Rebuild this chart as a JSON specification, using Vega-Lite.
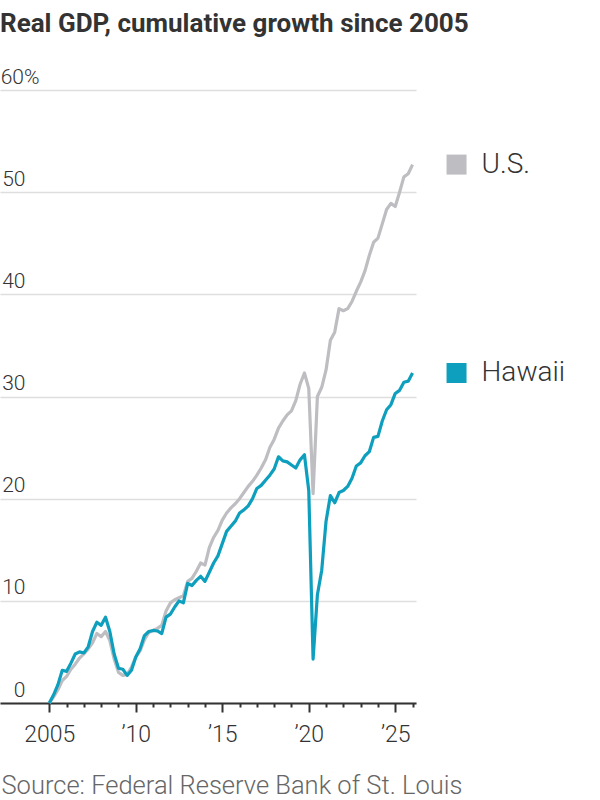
{
  "$schema": "https://vega.github.io/schema/vega-lite/v6.json",
  "width": 416,
  "height": 613,
  "autosize": {"type": "none"},
  "padding": {"left": 0, "top": 90, "right": 184, "bottom": 97},
  "background": "white",
  "title": {
    "text": "Real GDP, cumulative growth since 2005",
    "anchor": "start",
    "frame": "group",
    "font": "Roboto",
    "fontSize": 26,
    "fontWeight": "bold",
    "color": "#333333",
    "offset": 29
  },
  "data": {
    "values": [
      {"s": "U.S.", "t": 2005, "v": 0}, {"s": "U.S.", "t": 2005.25, "v": 0.6}, {"s": "U.S.", "t": 2005.5, "v": 1.3}, {"s": "U.S.", "t": 2005.75, "v": 2.2},
      {"s": "U.S.", "t": 2006, "v": 2.6}, {"s": "U.S.", "t": 2006.25, "v": 3.3}, {"s": "U.S.", "t": 2006.5, "v": 3.8}, {"s": "U.S.", "t": 2006.75, "v": 4.4},
      {"s": "U.S.", "t": 2007, "v": 4.8}, {"s": "U.S.", "t": 2007.25, "v": 5.3}, {"s": "U.S.", "t": 2007.5, "v": 5.9}, {"s": "U.S.", "t": 2007.75, "v": 6.8},
      {"s": "U.S.", "t": 2008, "v": 6.5}, {"s": "U.S.", "t": 2008.25, "v": 7.0}, {"s": "U.S.", "t": 2008.5, "v": 6.1}, {"s": "U.S.", "t": 2008.75, "v": 4.3},
      {"s": "U.S.", "t": 2009, "v": 3.0}, {"s": "U.S.", "t": 2009.25, "v": 2.7}, {"s": "U.S.", "t": 2009.5, "v": 2.8}, {"s": "U.S.", "t": 2009.75, "v": 3.5},
      {"s": "U.S.", "t": 2010, "v": 4.5}, {"s": "U.S.", "t": 2010.25, "v": 5.1}, {"s": "U.S.", "t": 2010.5, "v": 6.2}, {"s": "U.S.", "t": 2010.75, "v": 6.9},
      {"s": "U.S.", "t": 2011, "v": 7.1}, {"s": "U.S.", "t": 2011.25, "v": 7.3}, {"s": "U.S.", "t": 2011.5, "v": 7.6}, {"s": "U.S.", "t": 2011.75, "v": 9.0},
      {"s": "U.S.", "t": 2012, "v": 9.8}, {"s": "U.S.", "t": 2012.25, "v": 10.1}, {"s": "U.S.", "t": 2012.5, "v": 10.3}, {"s": "U.S.", "t": 2012.75, "v": 10.5},
      {"s": "U.S.", "t": 2013, "v": 11.9}, {"s": "U.S.", "t": 2013.25, "v": 12.2}, {"s": "U.S.", "t": 2013.5, "v": 12.9}, {"s": "U.S.", "t": 2013.75, "v": 13.7},
      {"s": "U.S.", "t": 2014, "v": 13.5}, {"s": "U.S.", "t": 2014.25, "v": 15.2}, {"s": "U.S.", "t": 2014.5, "v": 16.2}, {"s": "U.S.", "t": 2014.75, "v": 16.9},
      {"s": "U.S.", "t": 2015, "v": 17.9}, {"s": "U.S.", "t": 2015.25, "v": 18.6}, {"s": "U.S.", "t": 2015.5, "v": 19.1}, {"s": "U.S.", "t": 2015.75, "v": 19.5},
      {"s": "U.S.", "t": 2016, "v": 20.0}, {"s": "U.S.", "t": 2016.25, "v": 20.6}, {"s": "U.S.", "t": 2016.5, "v": 21.2}, {"s": "U.S.", "t": 2016.75, "v": 21.7},
      {"s": "U.S.", "t": 2017, "v": 22.3}, {"s": "U.S.", "t": 2017.25, "v": 23.0}, {"s": "U.S.", "t": 2017.5, "v": 23.8}, {"s": "U.S.", "t": 2017.75, "v": 25.0},
      {"s": "U.S.", "t": 2018, "v": 25.8}, {"s": "U.S.", "t": 2018.25, "v": 26.9}, {"s": "U.S.", "t": 2018.5, "v": 27.6}, {"s": "U.S.", "t": 2018.75, "v": 28.2},
      {"s": "U.S.", "t": 2019, "v": 28.6}, {"s": "U.S.", "t": 2019.25, "v": 29.6}, {"s": "U.S.", "t": 2019.5, "v": 31.2}, {"s": "U.S.", "t": 2019.75, "v": 32.3},
      {"s": "U.S.", "t": 2020, "v": 30.8}, {"s": "U.S.", "t": 2020.25, "v": 20.5}, {"s": "U.S.", "t": 2020.5, "v": 30.0}, {"s": "U.S.", "t": 2020.75, "v": 30.9},
      {"s": "U.S.", "t": 2021, "v": 32.6}, {"s": "U.S.", "t": 2021.25, "v": 35.5}, {"s": "U.S.", "t": 2021.5, "v": 36.3}, {"s": "U.S.", "t": 2021.75, "v": 38.6},
      {"s": "U.S.", "t": 2022, "v": 38.4}, {"s": "U.S.", "t": 2022.25, "v": 38.6}, {"s": "U.S.", "t": 2022.5, "v": 39.3}, {"s": "U.S.", "t": 2022.75, "v": 40.3},
      {"s": "U.S.", "t": 2023, "v": 41.2}, {"s": "U.S.", "t": 2023.25, "v": 42.3}, {"s": "U.S.", "t": 2023.5, "v": 43.8}, {"s": "U.S.", "t": 2023.75, "v": 45.1},
      {"s": "U.S.", "t": 2024, "v": 45.5}, {"s": "U.S.", "t": 2024.25, "v": 46.9}, {"s": "U.S.", "t": 2024.5, "v": 48.3}, {"s": "U.S.", "t": 2024.75, "v": 48.9},
      {"s": "U.S.", "t": 2025, "v": 48.6}, {"s": "U.S.", "t": 2025.25, "v": 50.0}, {"s": "U.S.", "t": 2025.5, "v": 51.5}, {"s": "U.S.", "t": 2025.75, "v": 51.8},
      {"s": "U.S.", "t": 2026, "v": 52.7},
      {"s": "Hawaii", "t": 2005, "v": 0}, {"s": "Hawaii", "t": 2005.25, "v": 0.8}, {"s": "Hawaii", "t": 2005.5, "v": 1.8}, {"s": "Hawaii", "t": 2005.75, "v": 3.2},
      {"s": "Hawaii", "t": 2006, "v": 3.1}, {"s": "Hawaii", "t": 2006.25, "v": 3.9}, {"s": "Hawaii", "t": 2006.5, "v": 4.8}, {"s": "Hawaii", "t": 2006.75, "v": 5.0},
      {"s": "Hawaii", "t": 2007, "v": 4.9}, {"s": "Hawaii", "t": 2007.25, "v": 5.5}, {"s": "Hawaii", "t": 2007.5, "v": 7.0}, {"s": "Hawaii", "t": 2007.75, "v": 7.9},
      {"s": "Hawaii", "t": 2008, "v": 7.6}, {"s": "Hawaii", "t": 2008.25, "v": 8.4}, {"s": "Hawaii", "t": 2008.5, "v": 7.0}, {"s": "Hawaii", "t": 2008.75, "v": 4.8},
      {"s": "Hawaii", "t": 2009, "v": 3.4}, {"s": "Hawaii", "t": 2009.25, "v": 3.3}, {"s": "Hawaii", "t": 2009.5, "v": 2.7}, {"s": "Hawaii", "t": 2009.75, "v": 3.2},
      {"s": "Hawaii", "t": 2010, "v": 4.5}, {"s": "Hawaii", "t": 2010.25, "v": 5.3}, {"s": "Hawaii", "t": 2010.5, "v": 6.6}, {"s": "Hawaii", "t": 2010.75, "v": 7.0},
      {"s": "Hawaii", "t": 2011, "v": 7.1}, {"s": "Hawaii", "t": 2011.25, "v": 7.05}, {"s": "Hawaii", "t": 2011.5, "v": 6.8}, {"s": "Hawaii", "t": 2011.75, "v": 8.4},
      {"s": "Hawaii", "t": 2012, "v": 8.7}, {"s": "Hawaii", "t": 2012.25, "v": 9.4}, {"s": "Hawaii", "t": 2012.5, "v": 10.0}, {"s": "Hawaii", "t": 2012.75, "v": 9.8},
      {"s": "Hawaii", "t": 2013, "v": 11.7}, {"s": "Hawaii", "t": 2013.25, "v": 11.5}, {"s": "Hawaii", "t": 2013.5, "v": 12.0}, {"s": "Hawaii", "t": 2013.75, "v": 12.4},
      {"s": "Hawaii", "t": 2014, "v": 11.9}, {"s": "Hawaii", "t": 2014.25, "v": 12.8}, {"s": "Hawaii", "t": 2014.5, "v": 13.7}, {"s": "Hawaii", "t": 2014.75, "v": 14.4},
      {"s": "Hawaii", "t": 2015, "v": 15.6}, {"s": "Hawaii", "t": 2015.25, "v": 16.8}, {"s": "Hawaii", "t": 2015.5, "v": 17.3}, {"s": "Hawaii", "t": 2015.75, "v": 17.8},
      {"s": "Hawaii", "t": 2016, "v": 18.6}, {"s": "Hawaii", "t": 2016.25, "v": 18.9}, {"s": "Hawaii", "t": 2016.5, "v": 19.3}, {"s": "Hawaii", "t": 2016.75, "v": 20.0},
      {"s": "Hawaii", "t": 2017, "v": 21.0}, {"s": "Hawaii", "t": 2017.25, "v": 21.3}, {"s": "Hawaii", "t": 2017.5, "v": 21.8}, {"s": "Hawaii", "t": 2017.75, "v": 22.3},
      {"s": "Hawaii", "t": 2018, "v": 22.9}, {"s": "Hawaii", "t": 2018.25, "v": 24.1}, {"s": "Hawaii", "t": 2018.5, "v": 23.7}, {"s": "Hawaii", "t": 2018.75, "v": 23.6},
      {"s": "Hawaii", "t": 2019, "v": 23.3}, {"s": "Hawaii", "t": 2019.25, "v": 23.0}, {"s": "Hawaii", "t": 2019.5, "v": 23.8}, {"s": "Hawaii", "t": 2019.75, "v": 24.3},
      {"s": "Hawaii", "t": 2020, "v": 20.8}, {"s": "Hawaii", "t": 2020.25, "v": 4.3}, {"s": "Hawaii", "t": 2020.5, "v": 10.6}, {"s": "Hawaii", "t": 2020.75, "v": 13.0},
      {"s": "Hawaii", "t": 2021, "v": 17.8}, {"s": "Hawaii", "t": 2021.25, "v": 20.3}, {"s": "Hawaii", "t": 2021.5, "v": 19.6}, {"s": "Hawaii", "t": 2021.75, "v": 20.6},
      {"s": "Hawaii", "t": 2022, "v": 20.8}, {"s": "Hawaii", "t": 2022.25, "v": 21.2}, {"s": "Hawaii", "t": 2022.5, "v": 22.0}, {"s": "Hawaii", "t": 2022.75, "v": 23.2},
      {"s": "Hawaii", "t": 2023, "v": 23.5}, {"s": "Hawaii", "t": 2023.25, "v": 24.2}, {"s": "Hawaii", "t": 2023.5, "v": 24.6}, {"s": "Hawaii", "t": 2023.75, "v": 26.0},
      {"s": "Hawaii", "t": 2024, "v": 26.1}, {"s": "Hawaii", "t": 2024.25, "v": 27.6}, {"s": "Hawaii", "t": 2024.5, "v": 28.7}, {"s": "Hawaii", "t": 2024.75, "v": 29.2},
      {"s": "Hawaii", "t": 2025, "v": 30.3}, {"s": "Hawaii", "t": 2025.25, "v": 30.6}, {"s": "Hawaii", "t": 2025.5, "v": 31.4}, {"s": "Hawaii", "t": 2025.75, "v": 31.5},
      {"s": "Hawaii", "t": 2026, "v": 32.3}
    ]
  },
  "encoding": {
    "x": {
      "field": "t",
      "type": "quantitative",
      "scale": {"domain": [2002.15, 2026.2], "nice": false, "zero": false},
      "axis": {
        "title": "Source: Federal Reserve Bank of St. Louis",
        "titleAnchor": "start",
        "titleAlign": "left",
        "titleX": 1,
        "titleY": 90,
        "titleBaseline": "alphabetic",
        "titleFont": "Roboto",
        "titleFontSize": 25.5,
        "titleFontWeight": 300,
        "titleColor": "#666666",
        "values": [2005, 2006, 2007, 2008, 2009, 2010, 2011, 2012, 2013, 2014, 2015, 2016, 2017, 2018, 2019, 2020, 2021, 2022, 2023, 2024, 2025, 2026],
        "labelExpr": "datum.value % 5 === 0 ? (datum.value === 2005 ? '2005' : '\u2019' + substring(toString(datum.value), 2, 4)) : ''",
        "labelFont": "Roboto",
        "labelFontSize": 23,
        "labelFontWeight": 300,
        "labelColor": "#333333",
        "labelPadding": 11,
        "labelOverlap": false,
        "labelFlush": false,
        "grid": false,
        "domainColor": "#333333",
        "domainWidth": 2,
        "tickColor": "#333333",
        "tickWidth": 2,
        "tickSize": {"condition": {"test": "datum.value % 5 === 0", "value": 9}, "value": 4}
      }
    },
    "y": {
      "field": "v",
      "type": "quantitative",
      "scale": {"domain": [0, 60], "nice": false},
      "axis": {
        "title": null,
        "values": [0, 10, 20, 30, 40, 50, 60],
        "domain": false,
        "ticks": false,
        "tickSize": 0,
        "grid": true,
        "gridColor": "#dedede",
        "gridWidth": 1.5,
        "labelAlign": "right",
        "labelBaseline": "alphabetic",
        "labelOffset": -7,
        "labelPadding": {"condition": {"test": "datum.value === 60", "value": -39}, "value": -25},
        "labelExpr": "datum.value === 60 ? '60%' : datum.label",
        "labelFont": "Roboto",
        "labelFontSize": 21,
        "labelFontWeight": 300,
        "labelColor": "#333333",
        "labelOverlap": false,
        "labelFlush": false,
        "labelBound": false
      }
    },
    "color": {
      "field": "s",
      "type": "nominal",
      "scale": {"domain": ["U.S.", "Hawaii"], "range": ["#bebec2", "#0d9fbd"]},
      "legend": null
    }
  },
  "layer": [
    {
      "mark": {"type": "line", "strokeWidth": 3.2, "strokeJoin": "round"}
    },
    {
      "transform": [{"filter": "datum.t === 2026"}],
      "mark": {"type": "point", "shape": "square", "filled": true, "size": 400, "opacity": 1, "strokeWidth": 0, "xOffset": 44}
    },
    {
      "transform": [{"filter": "datum.t === 2026"}],
      "mark": {"type": "text", "align": "left", "baseline": "middle", "xOffset": 69, "font": "Roboto", "fontSize": 28, "fontWeight": 300, "color": "#333333"},
      "encoding": {
        "text": {"field": "s"},
        "color": {"value": "#333333"}
      }
    }
  ],
  "config": {"view": {"stroke": null}}
}
